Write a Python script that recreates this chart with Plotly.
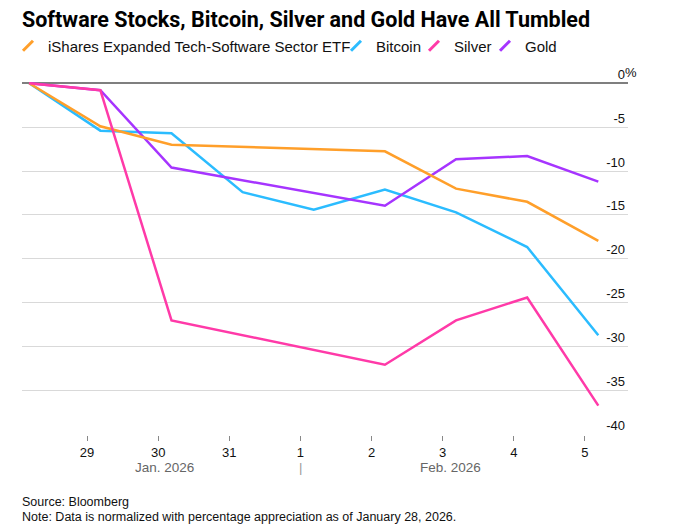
import plotly.graph_objects as go

dates_trading = ["2026-01-28 04:30", "2026-01-29 04:30", "2026-01-30 04:30",
                 "2026-02-02 04:30", "2026-02-03 04:30", "2026-02-04 04:30", "2026-02-05 04:30"]
dates_daily = ["2026-01-28 04:30", "2026-01-29 04:30", "2026-01-30 04:30", "2026-01-31 04:30",
               "2026-02-01 04:30", "2026-02-02 04:30", "2026-02-03 04:30", "2026-02-04 04:30",
               "2026-02-05 04:30"]

etf = [0, -4.9, -7.0, -7.75, -12.0, -13.5, -17.95]
bitcoin = [0, -5.4, -5.7, -12.4, -14.4, -12.1, -14.7, -18.65, -28.7]
silver = [0, -0.8, -27.0, -32.05, -27.0, -24.4, -36.7]
gold = [0, -0.8, -9.6, -13.95, -8.65, -8.3, -11.2]

series = [
    ("iShares Expanded Tech-Software Sector ETF", dates_trading, etf, "#ff9f2a"),
    ("Bitcoin", dates_daily, bitcoin, "#2bbcff"),
    ("Silver", dates_trading, silver, "#ff3aa8"),
    ("Gold", dates_trading, gold, "#a634ff"),
]
draw_order = [1, 3, 0, 2]

y_ticks = [0, -5, -10, -15, -20, -25, -30, -35, -40]
y_ticktext = ["0", "-5", "-10", "-15", "-20", "-25", "-30", "-35", "-40"]
month_labels = [("2026-01-30 02:00", "Jan. 2026"), ("2026-02-03 02:30", "Feb. 2026")]

FONT = "Liberation Sans"
W, H = 660, 522
PLOT_H = 372
fig = go.Figure()

for i in draw_order:
    name, xs, ys, color = series[i]
    fig.add_trace(go.Scatter(x=xs, y=ys, mode="lines", name=name,
                             line=dict(color=color, width=2.5),
                             showlegend=False, legendgroup=name,
                             hoverinfo="x+y+name"))

legend_px = [-4, 328, 406, 477]
legend_ids = ["legend", "legend2", "legend3", "legend4"]
for (name, xs, ys, color), lid in zip(series, legend_ids):
    fig.add_trace(go.Scatter(x=[None], y=[None], mode="markers", name=name,
                             legend=lid, legendgroup=name,
                             marker=dict(symbol="line-ne", size=10,
                                         line=dict(color=color, width=3))))

layout_legends = {}
for lid, lx in zip(legend_ids, legend_px):
    layout_legends[lid] = dict(orientation="h", yref="container", xref="container",
                               x=lx / W, y=1 - 38 / H, yanchor="middle", xanchor="left",
                               bgcolor="rgba(0,0,0,0)", itemwidth=30,
                               font=dict(family=FONT, size=15, color="#111"))

fig.update_layout(
    width=W, height=H,
    margin=dict(l=14, r=40, t=55, b=H - 55 - PLOT_H, autoexpand=False),
    paper_bgcolor="white", plot_bgcolor="white",
    title=dict(text="<b>Software Stocks, Bitcoin, Silver and Gold Have All Tumbled</b>",
               x=14 / W, xanchor="left", y=1 - 11 / H, yanchor="middle",
               font=dict(family="Roboto", size=21.5, color="#000")),
    font=dict(family=FONT, color="#111"),
    **layout_legends,
)

fig.update_xaxes(
    type="date",
    range=["2026-01-28 02:04", "2026-02-05 14:31"],
    tick0="2026-01-29", dtick=86400000, tickformat="%-d",
    ticks="outside", ticklen=5, tickcolor="#888", tickwidth=1,
    showgrid=False, showline=False, zeroline=False,
    tickfont=dict(family=FONT, size=13, color="#111"),
)
fig.update_yaxes(
    range=[-40.05, 2.3], side="right",
    tickvals=y_ticks, ticktext=y_ticktext,
    ticklabelposition="inside top",
    showgrid=True, gridcolor="#d9d9d9", gridwidth=1.2,
    zeroline=True, zerolinecolor="#7f7f7f", zerolinewidth=2,
    showline=False, ticks="",
    tickfont=dict(family=FONT, size=13, color="#111"),
)

fig.add_annotation(text="%", xref="paper", x=1, xanchor="left", xshift=-5,
                   yref="y", y=0, yanchor="bottom", yshift=1, showarrow=False,
                   font=dict(family=FONT, size=13, color="#111"))

for xd, txt in month_labels:
    fig.add_annotation(text=txt, xref="x", x=xd, yref="paper", y=-33 / PLOT_H,
                       yanchor="middle", showarrow=False,
                       font=dict(family=FONT, size=13.5, color="#666"))
fig.add_annotation(text="|", xref="x", x="2026-02-01", yref="paper", y=-33 / PLOT_H,
                   yanchor="middle", showarrow=False,
                   font=dict(family=FONT, size=13, color="#999"))

fig.add_annotation(text="Source: Bloomberg",
                   xref="paper", x=0, xanchor="left", xshift=-2,
                   yref="paper", y=-67 / PLOT_H, yanchor="middle",
                   align="left", showarrow=False,
                   font=dict(family=FONT, size=12.5, color="#111"))
fig.add_annotation(text="Note: Data is normalized with percentage appreciation as of January 28, 2026.",
                   xref="paper", x=0, xanchor="left", xshift=-2,
                   yref="paper", y=-82 / PLOT_H, yanchor="middle",
                   align="left", showarrow=False,
                   font=dict(family=FONT, size=12.5, color="#111"))

fig.write_html("out.html")
